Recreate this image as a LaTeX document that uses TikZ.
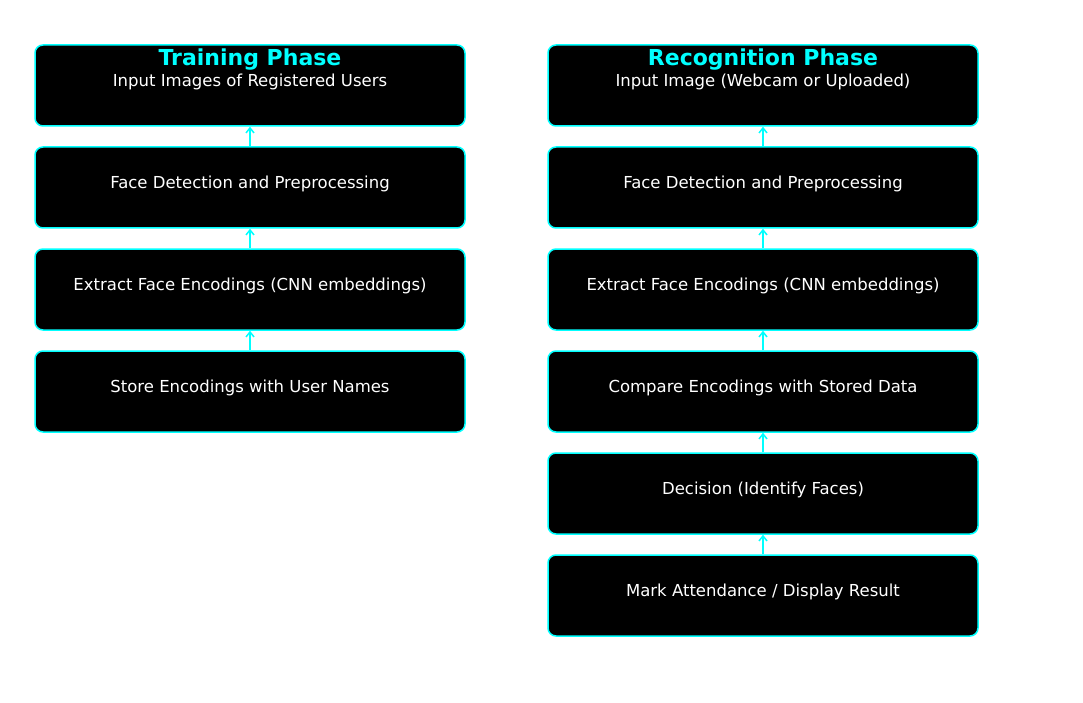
\documentclass[tikz,border=0pt]{standalone}
\usepackage{fontspec}
\setmainfont{DejaVu Sans}
\usetikzlibrary{arrows.meta}
\definecolor{cy}{RGB}{0,255,255}
\begin{document}
\begin{tikzpicture}[x=1pt,y=-1pt,
  stepbox/.style={draw=cy,line width=1.5pt,fill=black,rounded corners=8pt,minimum width=430pt,minimum height=81pt,inner sep=0pt},
  lbl/.style={text=white,font=\fontsize{16.5}{18}\selectfont,anchor=center},
  ttl/.style={text=cy,font=\bfseries\fontsize{22}{24}\selectfont,anchor=center},
  conn/.style={draw=cy,line width=1.5pt,-{Straight Barb[length=5pt,width=8pt]}}]
\useasboundingbox (0,0) rectangle (1083,703);
\fill[white] (0,0) rectangle (1083,703);
\foreach \n/\y in {L1/85.5,L2/187.5,L3/289.5,L4/391.5}{\node[stepbox] (\n) at (250,\y) {};}
\foreach \n/\y in {R1/85.5,R2/187.5,R3/289.5,R4/391.5,R5/493.5,R6/595.5}{\node[stepbox] (\n) at (763,\y) {};}
\node[lbl] (tL1) at (250,82) {Input Images of Registered Users};
\node[lbl] (tL2) at (250,184) {Face Detection and Preprocessing};
\node[lbl] (tL3) at (250,286) {Extract Face Encodings (CNN embeddings)};
\node[lbl] (tL4) at (250,388) {Store Encodings with User Names};
\node[lbl] (tR1) at (763,82) {Input Image (Webcam or Uploaded)};
\node[lbl] (tR2) at (763,184) {Face Detection and Preprocessing};
\node[lbl] (tR3) at (763,286) {Extract Face Encodings (CNN embeddings)};
\node[lbl] (tR4) at (763,388) {Compare Encodings with Stored Data};
\node[lbl] (tR5) at (763,490) {Decision (Identify Faces)};
\node[lbl] (tR6) at (763,592) {Mark Attendance / Display Result};
\node[ttl] (hL) at (250,59.5) {Training Phase};
\node[ttl] (hR) at (763,59.5) {Recognition Phase};
\draw[conn] (L2.north) -- (L1.south);
\draw[conn] (L3.north) -- (L2.south);
\draw[conn] (L4.north) -- (L3.south);
\draw[conn] (R2.north) -- (R1.south);
\draw[conn] (R3.north) -- (R2.south);
\draw[conn] (R4.north) -- (R3.south);
\draw[conn] (R5.north) -- (R4.south);
\draw[conn] (R6.north) -- (R5.south);
\end{tikzpicture}
\end{document}
